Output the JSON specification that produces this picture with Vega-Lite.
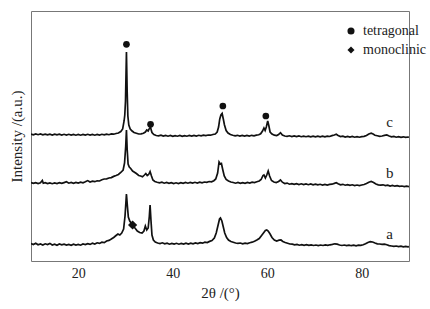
{
  "$schema": "https://vega.github.io/schema/vega-lite/v6.json",
  "width": 378,
  "height": 250,
  "autosize": {"type": "none"},
  "padding": {"left": 31, "top": 11, "right": 21, "bottom": 48},
  "background": "white",
  "config": {
    "view": {"stroke": "#777777", "strokeWidth": 1},
    "axis": {"labelFont": "Liberation Serif", "titleFont": "Liberation Serif", "labelFontSize": 14, "titleFontSize": 15, "labelColor": "#222", "titleColor": "#222", "titleFontWeight": "normal", "grid": false, "domain": false},
    "legend": {"labelFont": "Liberation Serif", "labelFontSize": 14, "labelColor": "#222"}
  },
  "datasets": {
    "a": [
      {"x":10,"y":17.5},{"x":10.5,"y":16.5},{"x":11,"y":17.8},{"x":11.5,"y":16.2},{"x":12,"y":17},{"x":12.5,"y":16},{"x":13,"y":17.2},{"x":13.5,"y":16.4},{"x":14,"y":17.6},{"x":14.5,"y":16},{"x":15,"y":16.8},{"x":15.5,"y":15.8},{"x":16,"y":17},{"x":16.5,"y":16.2},{"x":17,"y":16.9},{"x":17.5,"y":15.9},{"x":18,"y":16.6},{"x":18.5,"y":15.7},{"x":19,"y":16.8},{"x":19.5,"y":16},{"x":20,"y":16.5},{"x":20.5,"y":15.8},{"x":21,"y":17},{"x":21.5,"y":16.4},{"x":22,"y":17.4},{"x":22.5,"y":16.6},{"x":23,"y":17.8},{"x":23.5,"y":17},{"x":24,"y":18.2},{"x":24.5,"y":17.6},{"x":25,"y":18.8},{"x":25.5,"y":18.4},{"x":26,"y":20},{"x":26.5,"y":20.6},{"x":27,"y":22},{"x":27.5,"y":23.5},{"x":28,"y":25.5},{"x":28.4,"y":27},{"x":28.8,"y":26},{"x":29.2,"y":28},{"x":29.6,"y":32},{"x":29.9,"y":45},{"x":30.2,"y":67},{"x":30.4,"y":55},{"x":30.6,"y":44},{"x":30.9,"y":40},{"x":31.2,"y":38},{"x":31.6,"y":35},{"x":32,"y":33},{"x":32.5,"y":30},{"x":33,"y":28.5},{"x":33.5,"y":28},{"x":33.9,"y":30},{"x":34.2,"y":35},{"x":34.5,"y":31},{"x":34.8,"y":33},{"x":35.05,"y":45},{"x":35.2,"y":56},{"x":35.4,"y":40},{"x":35.6,"y":26},{"x":35.9,"y":21},{"x":36.3,"y":19},{"x":36.8,"y":18},{"x":37.3,"y":17.5},{"x":37.8,"y":18.2},{"x":38.3,"y":17.2},{"x":38.8,"y":17.8},{"x":39.3,"y":16.8},{"x":39.8,"y":17.6},{"x":40.3,"y":16.9},{"x":40.8,"y":17.7},{"x":41.3,"y":16.8},{"x":41.8,"y":17.5},{"x":42.3,"y":16.9},{"x":42.8,"y":17.8},{"x":43.3,"y":17},{"x":43.8,"y":17.9},{"x":44.3,"y":17.2},{"x":44.8,"y":18},{"x":45.3,"y":17.4},{"x":45.8,"y":18.3},{"x":46.3,"y":17.8},{"x":46.8,"y":18.8},{"x":47.3,"y":18.4},{"x":47.8,"y":19.6},{"x":48.3,"y":20.5},{"x":48.8,"y":23},{"x":49.2,"y":28},{"x":49.6,"y":36},{"x":49.9,"y":42},{"x":50.1,"y":43},{"x":50.4,"y":40},{"x":50.7,"y":34},{"x":51,"y":28},{"x":51.4,"y":23.5},{"x":51.8,"y":21},{"x":52.3,"y":19.5},{"x":52.8,"y":18.8},{"x":53.3,"y":18},{"x":53.8,"y":17.6},{"x":54.3,"y":18},{"x":54.8,"y":17.2},{"x":55.3,"y":17.8},{"x":55.8,"y":17.4},{"x":56.3,"y":18.3},{"x":56.8,"y":18.8},{"x":57.3,"y":19.8},{"x":57.8,"y":21},{"x":58.3,"y":22.5},{"x":58.8,"y":25.5},{"x":59.2,"y":28},{"x":59.6,"y":30.5},{"x":59.9,"y":31},{"x":60.2,"y":30},{"x":60.6,"y":27},{"x":61,"y":23.5},{"x":61.5,"y":21},{"x":62,"y":20},{"x":62.5,"y":20.8},{"x":62.9,"y":21},{"x":63.3,"y":19.5},{"x":63.8,"y":18.5},{"x":64.3,"y":17.8},{"x":64.8,"y":17},{"x":65.3,"y":16.8},{"x":65.8,"y":16.2},{"x":66.3,"y":16.6},{"x":66.8,"y":15.8},{"x":67.3,"y":16.4},{"x":67.8,"y":15.7},{"x":68.3,"y":16.3},{"x":68.8,"y":15.6},{"x":69.3,"y":16.1},{"x":69.8,"y":15.5},{"x":70.3,"y":16},{"x":70.8,"y":15.4},{"x":71.3,"y":16},{"x":71.8,"y":15.5},{"x":72.3,"y":16.1},{"x":72.8,"y":15.6},{"x":73.3,"y":16.2},{"x":73.8,"y":16.6},{"x":74.3,"y":17.2},{"x":74.8,"y":16.8},{"x":75.3,"y":16},{"x":75.8,"y":15.5},{"x":76.3,"y":16},{"x":76.8,"y":15.4},{"x":77.3,"y":15.9},{"x":77.8,"y":15.3},{"x":78.3,"y":15.8},{"x":78.8,"y":15.2},{"x":79.3,"y":15.8},{"x":79.8,"y":15.6},{"x":80.3,"y":16.2},{"x":80.8,"y":17.2},{"x":81.3,"y":18.5},{"x":81.8,"y":19.3},{"x":82.3,"y":19},{"x":82.8,"y":18},{"x":83.3,"y":17.2},{"x":83.8,"y":17},{"x":84.3,"y":16.6},{"x":84.8,"y":16.8},{"x":85.3,"y":16.2},{"x":85.8,"y":15.4},{"x":86.3,"y":15},{"x":86.8,"y":14.6},{"x":87.3,"y":15},{"x":87.8,"y":14.4},{"x":88.3,"y":14.8},{"x":88.8,"y":14.2},{"x":89.3,"y":14.6},{"x":89.8,"y":14.1},{"x":90,"y":14.3}
    ],
    "b": [
      {"x":10,"y":78.5},{"x":10.5,"y":77.6},{"x":11,"y":78.4},{"x":11.5,"y":77.5},{"x":12,"y":78.2},{"x":12.4,"y":80.5},{"x":12.6,"y":77.8},{"x":13,"y":78.3},{"x":13.5,"y":77.4},{"x":14,"y":78.1},{"x":14.5,"y":77.3},{"x":15,"y":78},{"x":15.5,"y":77.5},{"x":16,"y":78.3},{"x":16.5,"y":77.6},{"x":17,"y":78.4},{"x":17.5,"y":79.2},{"x":18,"y":77.8},{"x":18.5,"y":78.5},{"x":19,"y":77.7},{"x":19.5,"y":78.6},{"x":20,"y":77.9},{"x":20.5,"y":78.8},{"x":21,"y":78.2},{"x":21.5,"y":79.2},{"x":22,"y":80.4},{"x":22.5,"y":79},{"x":23,"y":79.8},{"x":23.5,"y":79.3},{"x":24,"y":80.2},{"x":24.5,"y":80},{"x":25,"y":81.2},{"x":25.5,"y":82},{"x":26,"y":82.2},{"x":26.5,"y":83},{"x":27,"y":83.4},{"x":27.5,"y":84.6},{"x":28,"y":85.5},{"x":28.5,"y":86.5},{"x":29,"y":88.5},{"x":29.5,"y":91},{"x":29.8,"y":98},{"x":30.05,"y":115},{"x":30.2,"y":131},{"x":30.35,"y":112},{"x":30.55,"y":97},{"x":30.8,"y":94},{"x":31.1,"y":92.5},{"x":31.5,"y":90},{"x":31.9,"y":88.8},{"x":32.3,"y":87.5},{"x":32.8,"y":85.5},{"x":33.2,"y":85},{"x":33.6,"y":84.2},{"x":34,"y":86},{"x":34.3,"y":87.5},{"x":34.6,"y":85.5},{"x":34.9,"y":86.5},{"x":35.2,"y":89.5},{"x":35.5,"y":85},{"x":35.8,"y":81},{"x":36.2,"y":79.5},{"x":36.7,"y":78.8},{"x":37.2,"y":78.2},{"x":37.7,"y":78.8},{"x":38.2,"y":77.8},{"x":38.7,"y":78.5},{"x":39.2,"y":77.6},{"x":39.7,"y":78.4},{"x":40.2,"y":77.5},{"x":40.7,"y":78.2},{"x":41.2,"y":77.5},{"x":41.7,"y":78.3},{"x":42.2,"y":77.6},{"x":42.7,"y":78.5},{"x":43.2,"y":77.8},{"x":43.7,"y":78.6},{"x":44.2,"y":77.9},{"x":44.7,"y":78.7},{"x":45.2,"y":78},{"x":45.7,"y":78.8},{"x":46.2,"y":78.2},{"x":46.7,"y":79},{"x":47.2,"y":78.6},{"x":47.7,"y":79.5},{"x":48.2,"y":79.2},{"x":48.7,"y":80.3},{"x":49.1,"y":82},{"x":49.5,"y":88},{"x":49.8,"y":99},{"x":50.05,"y":97},{"x":50.3,"y":97.5},{"x":50.6,"y":91},{"x":50.9,"y":85},{"x":51.3,"y":81.5},{"x":51.8,"y":80},{"x":52.3,"y":79},{"x":52.8,"y":78.5},{"x":53.3,"y":77.8},{"x":53.8,"y":78.5},{"x":54.3,"y":77.6},{"x":54.8,"y":78.4},{"x":55.3,"y":77.7},{"x":55.8,"y":78.5},{"x":56.3,"y":77.9},{"x":56.8,"y":78.8},{"x":57.3,"y":78.4},{"x":57.8,"y":79.2},{"x":58.3,"y":80},{"x":58.7,"y":81.5},{"x":59.1,"y":85.5},{"x":59.3,"y":86},{"x":59.6,"y":83},{"x":59.9,"y":86},{"x":60.2,"y":90},{"x":60.5,"y":85},{"x":60.9,"y":80.5},{"x":61.4,"y":79},{"x":61.9,"y":78.5},{"x":62.4,"y":79.5},{"x":62.8,"y":81},{"x":63.2,"y":78.8},{"x":63.7,"y":77.5},{"x":64.2,"y":77.9},{"x":64.7,"y":76.8},{"x":65.2,"y":77.4},{"x":65.7,"y":76.6},{"x":66.2,"y":77.3},{"x":66.7,"y":76.5},{"x":67.2,"y":77.2},{"x":67.7,"y":76.4},{"x":68.2,"y":77},{"x":68.7,"y":76.3},{"x":69.2,"y":77},{"x":69.7,"y":76.2},{"x":70.2,"y":76.8},{"x":70.7,"y":76.1},{"x":71.2,"y":76.7},{"x":71.7,"y":76},{"x":72.2,"y":76.6},{"x":72.7,"y":76},{"x":73.2,"y":76.6},{"x":73.7,"y":76.8},{"x":74.2,"y":77.6},{"x":74.6,"y":78.3},{"x":75,"y":77.2},{"x":75.5,"y":76.2},{"x":76,"y":76.7},{"x":76.5,"y":75.8},{"x":77,"y":76.4},{"x":77.5,"y":75.6},{"x":78,"y":76.2},{"x":78.5,"y":75.5},{"x":79,"y":76},{"x":79.5,"y":75.4},{"x":80,"y":76},{"x":80.5,"y":76.5},{"x":81,"y":77.5},{"x":81.5,"y":78.8},{"x":82,"y":79.5},{"x":82.5,"y":78.5},{"x":83,"y":77},{"x":83.5,"y":76.2},{"x":84,"y":75.8},{"x":84.5,"y":76.2},{"x":85,"y":75.4},{"x":85.5,"y":75.8},{"x":86,"y":75},{"x":86.5,"y":75.5},{"x":87,"y":74.8},{"x":87.5,"y":75.3},{"x":88,"y":74.6},{"x":88.5,"y":75},{"x":89,"y":74.4},{"x":89.5,"y":74.9},{"x":90,"y":74.3}
    ],
    "c": [
      {"x":10,"y":127},{"x":10.5,"y":126.2},{"x":11,"y":127.1},{"x":11.5,"y":126.3},{"x":12,"y":127},{"x":12.5,"y":126.2},{"x":13,"y":126.9},{"x":13.5,"y":126.1},{"x":14,"y":126.8},{"x":14.5,"y":126},{"x":15,"y":126.9},{"x":15.5,"y":126.1},{"x":16,"y":126.8},{"x":16.5,"y":126},{"x":17,"y":126.7},{"x":17.5,"y":125.9},{"x":18,"y":126.7},{"x":18.5,"y":125.9},{"x":19,"y":126.6},{"x":19.5,"y":125.8},{"x":20,"y":126.5},{"x":20.5,"y":125.8},{"x":21,"y":126.6},{"x":21.5,"y":125.9},{"x":22,"y":126.7},{"x":22.5,"y":125.9},{"x":23,"y":126.6},{"x":23.5,"y":125.8},{"x":24,"y":126.5},{"x":24.5,"y":125.9},{"x":25,"y":126.7},{"x":25.5,"y":126.1},{"x":26,"y":126.9},{"x":26.5,"y":126.3},{"x":27,"y":127.1},{"x":27.5,"y":126.8},{"x":28,"y":127.5},{"x":28.5,"y":128},{"x":29,"y":129.5},{"x":29.4,"y":132},{"x":29.7,"y":140},{"x":29.85,"y":146},{"x":30,"y":160},{"x":30.2,"y":209},{"x":30.35,"y":170},{"x":30.5,"y":145},{"x":30.7,"y":136},{"x":31,"y":132},{"x":31.4,"y":130},{"x":31.8,"y":128.5},{"x":32.3,"y":127.8},{"x":32.8,"y":127},{"x":33.3,"y":127.2},{"x":33.8,"y":127.8},{"x":34.2,"y":129},{"x":34.5,"y":131},{"x":34.8,"y":130},{"x":35.1,"y":133},{"x":35.3,"y":133.5},{"x":35.6,"y":128.5},{"x":36,"y":126.5},{"x":36.5,"y":125.5},{"x":37,"y":125.2},{"x":37.5,"y":125.8},{"x":38,"y":124.9},{"x":38.5,"y":125.6},{"x":39,"y":124.8},{"x":39.5,"y":125.5},{"x":40,"y":124.7},{"x":40.5,"y":125.4},{"x":41,"y":124.8},{"x":41.5,"y":125.5},{"x":42,"y":124.7},{"x":42.5,"y":125.4},{"x":43,"y":124.8},{"x":43.5,"y":125.5},{"x":44,"y":124.9},{"x":44.5,"y":125.6},{"x":45,"y":125},{"x":45.5,"y":125.7},{"x":46,"y":125.1},{"x":46.5,"y":125.8},{"x":47,"y":125.4},{"x":47.5,"y":126},{"x":48,"y":125.8},{"x":48.5,"y":126.5},{"x":49,"y":127},{"x":49.4,"y":129},{"x":49.7,"y":134},{"x":49.95,"y":142},{"x":50.2,"y":146},{"x":50.45,"y":147.5},{"x":50.7,"y":142},{"x":50.95,"y":136},{"x":51.3,"y":130.5},{"x":51.7,"y":128},{"x":52.2,"y":126.5},{"x":52.7,"y":125.8},{"x":53.2,"y":125.2},{"x":53.7,"y":125.7},{"x":54.2,"y":125},{"x":54.7,"y":125.6},{"x":55.2,"y":124.9},{"x":55.7,"y":125.6},{"x":56.2,"y":125},{"x":56.7,"y":125.7},{"x":57.2,"y":125.2},{"x":57.7,"y":125.9},{"x":58.2,"y":126.2},{"x":58.6,"y":127.2},{"x":59,"y":130},{"x":59.3,"y":133},{"x":59.55,"y":130.5},{"x":59.8,"y":134},{"x":60.1,"y":140},{"x":60.35,"y":135},{"x":60.6,"y":129},{"x":61,"y":127},{"x":61.5,"y":125.8},{"x":62,"y":125.5},{"x":62.4,"y":126.5},{"x":62.8,"y":128.3},{"x":63.2,"y":126},{"x":63.7,"y":125},{"x":64.2,"y":124.6},{"x":64.7,"y":125.2},{"x":65.2,"y":124.5},{"x":65.7,"y":125.1},{"x":66.2,"y":124.4},{"x":66.7,"y":125},{"x":67.2,"y":124.3},{"x":67.7,"y":124.9},{"x":68.2,"y":124.3},{"x":68.7,"y":124.9},{"x":69.2,"y":124.2},{"x":69.7,"y":124.8},{"x":70.2,"y":124.2},{"x":70.7,"y":124.8},{"x":71.2,"y":124.2},{"x":71.7,"y":124.8},{"x":72.2,"y":124.1},{"x":72.7,"y":124.8},{"x":73.2,"y":124.5},{"x":73.7,"y":125.4},{"x":74.2,"y":126},{"x":74.6,"y":126.8},{"x":75,"y":125.5},{"x":75.5,"y":124.5},{"x":76,"y":124.9},{"x":76.5,"y":124},{"x":77,"y":124.6},{"x":77.5,"y":123.9},{"x":78,"y":124.5},{"x":78.5,"y":123.8},{"x":79,"y":124.4},{"x":79.5,"y":123.8},{"x":80,"y":124.4},{"x":80.5,"y":124.6},{"x":81,"y":125.5},{"x":81.5,"y":127},{"x":82,"y":127.8},{"x":82.4,"y":127},{"x":82.8,"y":125.8},{"x":83.3,"y":125.2},{"x":83.8,"y":124.6},{"x":84.3,"y":125},{"x":84.8,"y":125.6},{"x":85.3,"y":126},{"x":85.8,"y":125},{"x":86.3,"y":124.2},{"x":86.8,"y":124.6},{"x":87.3,"y":123.8},{"x":87.8,"y":124.4},{"x":88.3,"y":123.7},{"x":88.8,"y":124.2},{"x":89.3,"y":123.6},{"x":89.8,"y":124},{"x":90,"y":123.7}
    ],
    "tetra": [
      {"x":30.2,"y":216.7,"phase":"tetragonal"},
      {"x":35.3,"y":136.7,"phase":"tetragonal"},
      {"x":50.6,"y":155,"phase":"tetragonal"},
      {"x":59.7,"y":145,"phase":"tetragonal"}
    ],
    "mono": [
      {"x":31.5,"y":36,"phase":"monoclinic"}
    ],
    "labels": [
      {"x":85.9,"y":139.3,"t":"c"},
      {"x":85.9,"y":88,"t":"b"},
      {"x":85.9,"y":27,"t":"a"}
    ],
    "ticks": [
      {"x":20,"len":5},{"x":30,"len":3},{"x":40,"len":5},{"x":50,"len":3},{"x":60,"len":5},{"x":70,"len":3},{"x":80,"len":5}
    ]
  },
  "encoding": {
    "x": {"field": "x", "type": "quantitative", "scale": {"domain": [10, 90], "nice": false, "zero": false},
      "axis": {"values": [20, 40, 60, 80], "ticks": false, "labelPadding": 5, "title": "2θ /(°)", "titlePadding": 5}},
    "y": {"field": "y", "type": "quantitative", "scale": {"domain": [0, 250], "nice": false},
      "axis": {"labels": false, "ticks": false, "title": "Intensity /(a.u.)", "titlePadding": 7}}
  },
  "layer": [
    {"data": {"name": "a"}, "mark": {"type": "line", "color": "#111", "strokeWidth": 1.7, "clip": true}},
    {"data": {"name": "b"}, "mark": {"type": "line", "color": "#111", "strokeWidth": 1.7, "clip": true}},
    {"data": {"name": "c"}, "mark": {"type": "line", "color": "#111", "strokeWidth": 1.7, "clip": true}},
    {"data": {"name": "ticks"}, "mark": {"type": "rule", "color": "#333", "strokeWidth": 1},
      "encoding": {"y": {"datum": 0, "type": "quantitative"}, "y2": {"field": "len"}}},
    {"data": {"name": "tetra"}, "mark": {"type": "point", "filled": true, "opacity": 1, "color": "#111", "size": 45},
      "encoding": {
        "shape": {"field": "phase", "type": "nominal", "scale": {"domain": ["tetragonal", "monoclinic"], "range": ["circle", "diamond"]},
          "legend": {"title": null, "orient": "none", "legendX": 313, "legendY": 13, "padding": 0, "rowPadding": 5, "symbolSize": 50, "symbolFillColor": "#111", "symbolStrokeColor": "#111", "labelOffset": 5}}
      }},
    {"data": {"name": "mono"}, "mark": {"type": "point", "filled": true, "opacity": 1, "color": "#111", "size": 85},
      "encoding": {
        "shape": {"field": "phase", "type": "nominal"}
      }},
    {"data": {"name": "labels"}, "mark": {"type": "text", "font": "Liberation Serif", "fontSize": 15, "color": "#222", "baseline": "middle", "align": "center"},
      "encoding": {"text": {"field": "t"}}}
  ]
}
